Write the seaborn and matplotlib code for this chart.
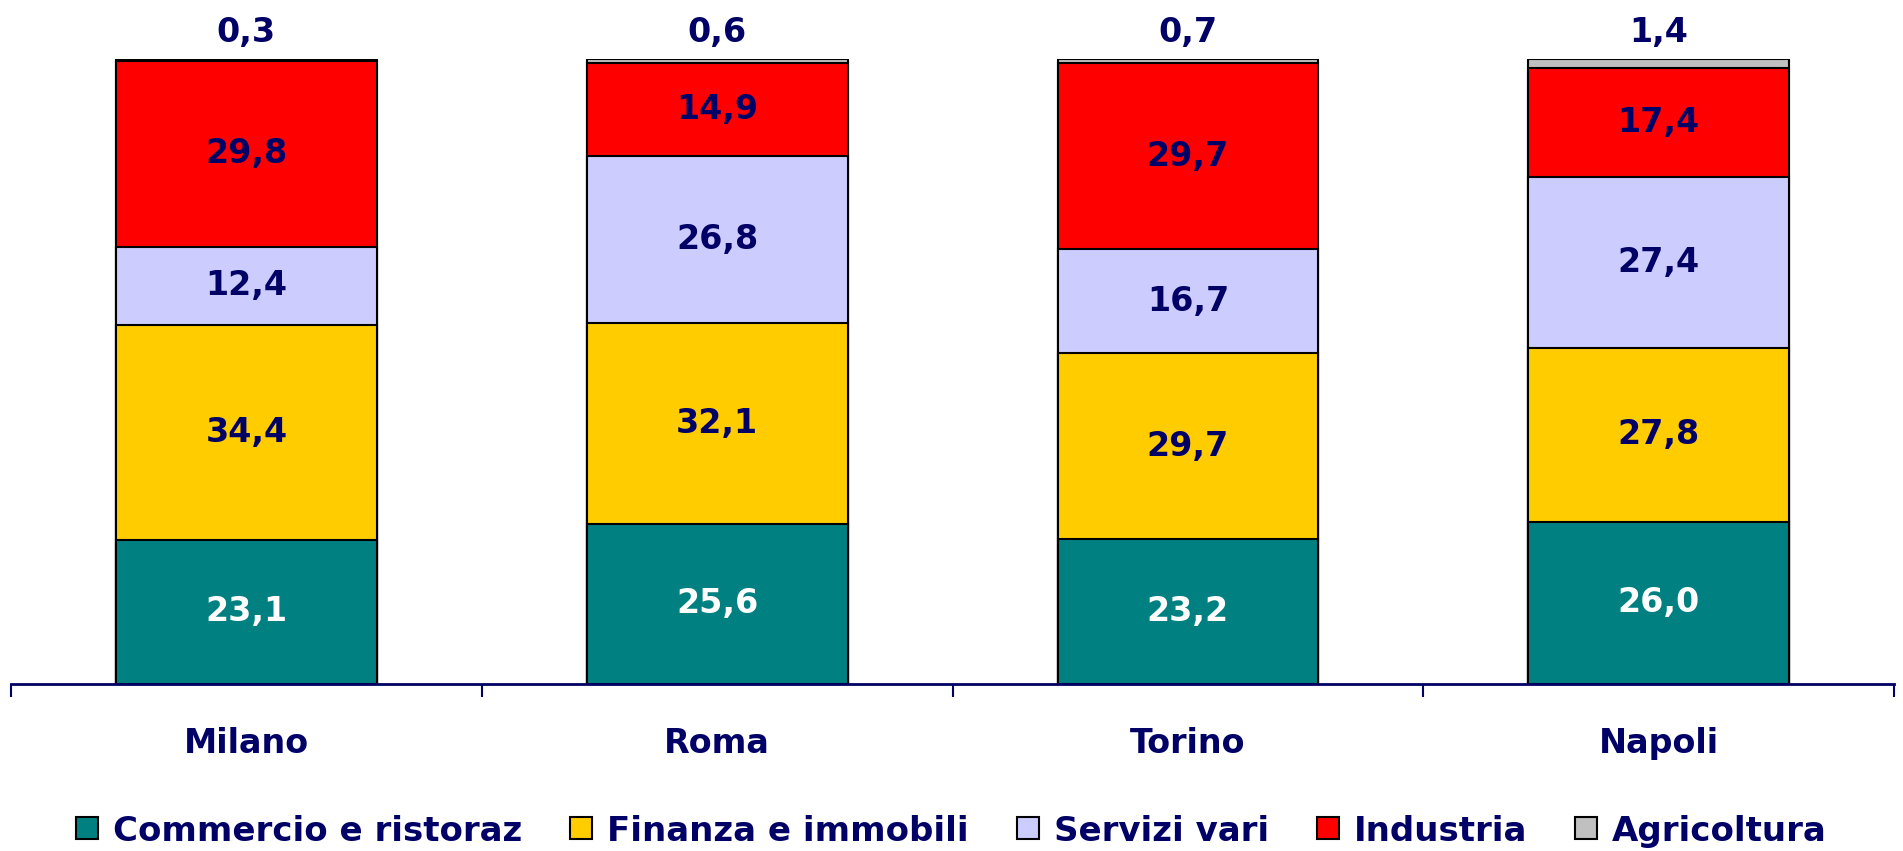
import matplotlib
matplotlib.use("Agg")
import matplotlib.pyplot as plt
from matplotlib.patches import Rectangle
import numpy as np
import pandas as pd
import seaborn as sns

# data (percent shares by sector)
cities = ["Milano", "Roma", "Torino", "Napoli"]
sectors = ["Commercio e ristoraz", "Finanza e immobili", "Servizi vari",
           "Industria", "Agricoltura"]
commercio = [23.1, 25.6, 23.2, 26.0]
finanza = [34.4, 32.1, 29.7, 27.8]
servizi = [12.4, 26.8, 16.7, 27.4]
industria = [29.8, 14.9, 29.7, 17.4]
agricoltura = [0.3, 0.6, 0.7, 1.4]

colors = ["#008080", "#FFCC00", "#CCCCFF", "#FF0000", "#C0C0C0"]
navy = "#000066"

sns.set_theme(style="white")
plt.rcParams["font.family"] = ["DejaVu Sans"]

df = pd.DataFrame({
    "city": cities,
    sectors[0]: commercio,
    sectors[1]: finanza,
    sectors[2]: servizi,
    sectors[3]: industria,
    sectors[4]: agricoltura,
})
cum = df[sectors].cumsum(axis=1)

W, H = 1903, 851
fig = plt.figure(figsize=(W / 100, H / 100), dpi=100)
ax = fig.add_axes([0.0058, 1 - 684 / H, 0.9895, (684 - 59) / H])

# stacked bars: draw cumulative totals from the top layer down
for i in range(len(sectors) - 1, -1, -1):
    sns.barplot(x=df["city"], y=cum[sectors[i]], color=colors[i],
                width=0.554, edgecolor="black", linewidth=1.5,
                saturation=1, ax=ax)

# value labels
for j in range(len(cities)):
    bottom = 0
    for i, s in enumerate(sectors):
        v = df[s].iloc[j]
        txt = f"{v:.1f}".replace(".", ",")
        if i == len(sectors) - 1:
            ax.text(j, 104.3, txt, ha="center", va="center", fontsize=24,
                    fontweight="bold", color=navy, clip_on=False)
        else:
            c = "white" if i == 0 else navy
            ax.text(j, bottom + v / 2, txt, ha="center", va="center",
                    fontsize=24, fontweight="bold", color=c)
        bottom += v

ax.set_xlim(-0.5, 3.5)
ax.set_ylim(0, 100)
ax.set_xlabel("")
ax.set_ylabel("")
ax.set_yticks([])
ax.set_xticks(range(len(cities)))
ax.set_xticklabels(cities, fontsize=24, fontweight="bold", color=navy)
ax.tick_params(axis="x", which="major", bottom=True, length=0, pad=31)
ax.set_xticks(np.arange(-0.5, 4, 1), minor=True)
ax.tick_params(axis="x", which="minor", bottom=True, length=9.5, width=1.5,
               color=navy, direction="out")
for side in ["top", "right", "left"]:
    ax.spines[side].set_visible(False)
ax.spines["bottom"].set_color(navy)
ax.spines["bottom"].set_linewidth(2)
ax.spines["bottom"].set_zorder(5)

# legend laid out by hand so that all labels share one baseline
fs = 24.5
box, gap_txt, gap_item = 22, 15, 48
y_leg = 828
renderer = fig.canvas.get_renderer()
texts, widths = [], []
for s in sectors:
    t = fig.text(0, 1 - y_leg / H, s, fontsize=fs, fontweight="bold",
                 color=navy, va="center_baseline")
    texts.append(t)
    widths.append(t.get_window_extent(renderer).width)
total = sum(box + gap_txt + w for w in widths) + gap_item * (len(sectors) - 1)
x = (W - total) / 2
for t, w, c in zip(texts, widths, colors):
    fig.patches.append(Rectangle((x / W, 1 - (y_leg + box / 2) / H), box / W, box / H,
                                 facecolor=c, edgecolor="black", linewidth=1.5,
                                 transform=fig.transFigure, figure=fig))
    t.set_x((x + box + gap_txt) / W)
    x += box + gap_txt + w + gap_item

fig.savefig("out.png", dpi=100)
